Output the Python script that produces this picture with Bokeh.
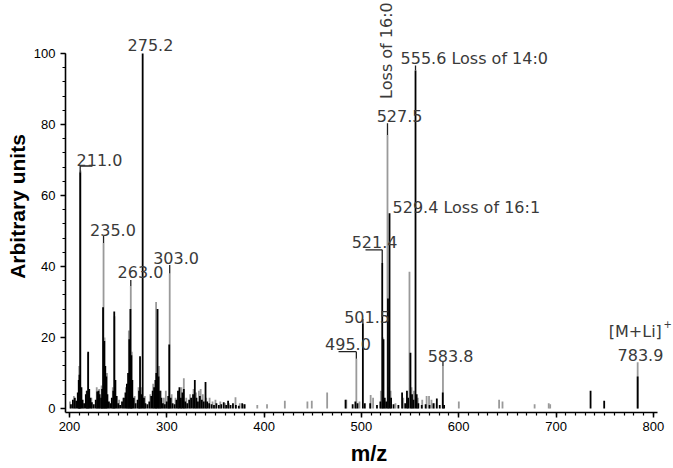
import math
from bokeh.plotting import figure
from bokeh.models import ColumnDataSource, Range1d, SingleIntervalTicker
from bokeh.core.properties import value
from bokeh.embed import file_html
from bokeh.resources import INLINE

# ---------------- data ----------------
# black (strong) sticks: m/z and relative intensity
black_mz = [201.5, 203.5, 205.5, 207.0, 208.5, 209.5, 210.3, 211.0, 212.3, 213.5, 215.0, 216.8, 218.0,
            219.2, 220.3, 221.5, 223.0, 225.0, 227.0, 228.5, 229.8, 231.0, 232.5, 233.5, 234.5, 235.8,
            236.8, 237.8, 239.0, 240.5, 242.0, 243.5, 245.0, 246.0, 247.2, 248.5, 250.0, 252.0, 254.0,
            256.0, 257.5, 259.0, 260.2, 261.5, 262.6, 263.6, 264.6, 266.0, 268.0, 270.0, 271.5, 272.5,
            274.0, 275.2, 276.5, 278.0, 280.0, 282.0, 284.0, 285.5, 287.0, 288.3, 289.2, 290.5, 291.5,
            293.0, 294.5, 296.0, 298.0, 300.0, 301.5, 302.5, 304.0, 306.0, 308.0, 310.0, 311.5, 313.0,
            314.5, 316.0, 317.5, 319.0, 321.0, 323.0, 325.0, 327.0, 328.8, 330.5, 332.0, 334.0, 336.0,
            338.0, 339.8, 341.5, 343.5, 346.0, 348.5, 351.0, 353.5, 356.0, 358.5, 361.0, 363.0, 365.5,
            368.0, 371.0, 374.0, 377.5, 380.0, 483.7, 491.0, 493.8, 496.0, 501.5, 503.5, 509.0, 516.0,
            519.5, 521.4, 522.7, 524.0, 525.5, 527.3, 528.9, 530.5, 533.0, 538.0, 541.8, 545.0, 546.8,
            548.0, 550.4, 552.0, 553.5, 555.6, 556.8, 558.5, 562.0, 566.0, 570.0, 574.0, 577.5, 580.5,
            583.6, 585.0, 735.5, 749.5, 783.9]
black_int = [1.2, 2.5, 3.0, 2.2, 4.5, 8.0, 9.5, 66.5, 6.0, 2.5, 1.5, 4.0, 5.0,
             16.0, 5.5, 3.0, 1.8, 1.2, 2.5, 4.8, 5.0, 4.0, 3.0, 5.5, 28.5, 19.0,
             12.0, 9.0, 4.0, 2.0, 1.5, 3.0, 5.0, 27.3, 8.0, 3.5, 1.5, 1.0, 2.0,
             3.0, 4.5, 7.0, 10.0, 19.5, 28.0, 15.0, 8.0, 3.0, 1.5, 2.5, 5.0, 14.7,
             4.0, 100.0, 3.0, 1.5, 1.2, 2.0, 3.5, 5.0, 6.0, 8.0, 10.0, 28.0, 9.0,
             5.0, 3.0, 1.5, 1.2, 2.0, 3.5, 18.0, 3.0, 1.5, 1.2, 2.5, 5.0, 6.0,
             3.0, 4.5, 5.5, 2.0, 1.5, 2.5, 3.0, 4.0, 8.0, 3.0, 2.0, 3.5, 2.5,
             2.0, 7.5, 2.0, 1.5, 1.2, 1.0, 1.5, 1.0, 1.2, 1.8, 1.0, 2.2, 1.0,
             1.5, 1.0, 0.8, 1.5, 1.2, 2.5, 1.2, 2.0, 1.5, 24.0, 1.5, 1.5, 1.0,
             2.0, 41.0, 19.5, 3.0, 2.0, 31.0, 55.0, 3.0, 1.2, 1.0, 4.5, 1.5, 5.0,
             3.0, 15.7, 4.0, 2.5, 95.2, 4.0, 1.5, 1.0, 1.2, 1.0, 1.5, 2.8, 1.0,
             4.5, 1.0, 5.0, 2.2, 9.0]

# gray (weaker trace) sticks
gray_mz = [200.5, 204.5, 210.0, 211.3, 217.5, 219.0, 222.5, 228.0, 230.5, 233.0, 235.0, 236.0, 238.5,
           244.5, 246.3, 251.0, 255.0, 258.0, 261.0, 263.0, 264.0, 267.0, 271.0, 273.5, 277.5, 283.0,
           286.0, 289.0, 292.0, 294.0, 297.0, 299.0, 303.0, 305.0, 309.0, 312.5, 315.0, 317.5, 320.0,
           324.0, 327.5, 330.0, 333.0, 334.8, 337.0, 340.5, 344.0, 347.0, 350.0, 355.0, 360.0, 364.0,
           370.6, 375.0, 379.0, 393.0, 403.0, 421.3, 444.5, 449.0, 464.8, 484.5, 494.8, 498.0, 509.5,
           512.0, 520.0, 522.0, 526.8, 528.0, 530.0, 535.0, 543.0, 549.4, 551.5, 554.0, 558.0, 562.5,
           567.0, 569.5, 572.0, 575.0, 583.8, 600.1, 641.5, 645.0, 678.0, 692.5, 694.0, 783.9]
gray_int = [2.0, 3.5, 12.0, 67.0, 5.0, 15.6, 3.0, 6.0, 5.5, 6.5, 46.6, 20.0, 10.0,
            6.0, 26.0, 2.5, 3.0, 6.0, 22.0, 34.5, 16.0, 3.5, 6.0, 6.0, 3.5, 4.0,
            7.0, 30.0, 12.0, 5.0, 3.0, 5.0, 38.0, 4.0, 3.0, 5.0, 6.0, 8.5, 3.0,
            4.0, 5.5, 4.5, 5.0, 5.5, 4.0, 3.0, 3.0, 2.0, 2.5, 2.0, 1.5, 1.5,
            3.2, 1.5, 1.2, 1.0, 1.2, 2.2, 2.0, 2.2, 4.5, 2.5, 14.0, 2.0, 3.8,
            3.0, 5.0, 20.0, 77.0, 6.0, 5.0, 1.5, 3.0, 38.5, 6.0, 5.0, 3.0, 2.5,
            3.5, 3.5, 2.5, 1.5, 12.0, 2.0, 2.5, 2.0, 1.2, 1.5, 1.2, 13.0]

# peak annotations
ann_text = ["211.0", "235.0", "263.0", "275.2", "303.0", "495.0", "501.5", "521.4",
            "527.5", "529.4 Loss of 16:1", "555.6 Loss of 14:0", "583.8", "[M+Li]", "783.9"]
ann_x = [230.8, 244.7, 273.0, 283.2, 309.5, 486.2, 505.8, 513.5,
         539.2, 532.0, 540.2, 591.6, 781.5, 786.8]
ann_y = [69.9, 50.3, 38.5, 102.5, 42.4, 18.3, 25.8, 46.9,
         82.3, 56.5, 98.6, 14.9, 21.6, 15.2]
ann_align = ["center", "center", "center", "center", "center", "center", "center", "center",
             "center", "left", "left", "center", "center", "center"]

rot_text = ["Loss of 16:0"]
rot_x = [525.8]
rot_y = [100.8]

sup_text = ["+"]
sup_x = [810.5]
sup_y = [23.8]

# leader lines: vertical from peak top up to label, optional horizontal bracket
lead_mz = [211.0, 235.0, 263.0, 303.0, 494.8, 501.5, 521.4, 526.8, 555.6, 583.8]
lead_y0 = [66.5, 46.6, 34.5, 38.0, 14.0, 24.0, 41.0, 77.0, 95.2, 12.0]
lead_y1 = [68.3, 48.6, 36.2, 40.4, 16.0, 25.2, 44.7, 80.3, 96.6, 13.2]
brk_x0 = [211.0, 476.5, 504.2]
brk_x1 = [223.6, 494.8, 521.4]
brk_y = [68.3, 16.0, 44.7]

x_title = "m/z"
y_title = "Arbitrary units"

# ---------------- figure ----------------
p = figure(width=673, height=468, output_backend="svg", toolbar_location=None,
           x_range=Range1d(195.9, 819.7), y_range=Range1d(-1.12, 114.9),
           min_border_left=65, min_border_right=1, min_border_top=0, min_border_bottom=55)
p.outline_line_color = None
p.grid.visible = False
p.background_fill_color = "white"
p.border_fill_color = "white"

gsrc = ColumnDataSource(dict(x=gray_mz, y=gray_int, y0=[0] * len(gray_mz)))
bsrc = ColumnDataSource(dict(x=black_mz, y=black_int, y0=[0] * len(black_mz)))
p.segment(x0="x", y0="y0", x1="x", y1="y", source=gsrc, line_color="#9a9a9a", line_width=1.8)
p.segment(x0="x", y0="y0", x1="x", y1="y", source=bsrc, line_color="#000000", line_width=1.8)

# leaders
p.segment(x0=lead_mz, y0=lead_y0, x1=lead_mz, y1=lead_y1, line_color="#222222", line_width=1.3)
p.segment(x0=brk_x0, y0=brk_y, x1=brk_x1, y1=brk_y, line_color="#222222", line_width=1.3)

font = value("DejaVu Sans")
asrc = ColumnDataSource(dict(x=ann_x, y=ann_y, text=ann_text, align=ann_align))
p.text(x="x", y="y", text="text", source=asrc, text_align="align", text_baseline="middle",
       text_font=font, text_font_size="16px", text_color="#3a3a3a")
p.text(x=rot_x, y=rot_y, text=rot_text, angle=math.pi / 2, text_align="center",
       text_baseline="middle", text_font=font, text_font_size="16px", text_color="#3a3a3a")
p.text(x=sup_x, y=sup_y, text=sup_text, text_align="left", text_baseline="middle",
       text_font=font, text_font_size="10px", text_color="#3a3a3a")

# axes
xa = p.xaxis[0]
ya = p.yaxis[0]
xa.ticker = SingleIntervalTicker(interval=100, num_minor_ticks=10)
ya.ticker = SingleIntervalTicker(interval=20, num_minor_ticks=5)
xa.bounds = (196, 804)
ya.bounds = (-1.12, 100)
for ax in (xa, ya):
    ax.axis_line_width = 1.6
    ax.axis_line_color = "black"
    ax.major_tick_line_width = 1.5
    ax.minor_tick_line_width = 1.2
    ax.major_tick_out = 5
    ax.major_tick_in = 0
    ax.minor_tick_out = 3
    ax.minor_tick_in = 0
    ax.major_label_text_font = "Liberation Sans"
    ax.major_label_text_font_size = "13px"
    ax.major_label_text_color = "black"
    ax.axis_label_text_font = "Liberation Sans"
    ax.axis_label_text_font_style = "bold"
    ax.axis_label_text_color = "black"
xa.axis_label = x_title
ya.axis_label = y_title
xa.axis_label_text_font_size = "22px"
ya.axis_label_text_font_size = "21px"
xa.major_label_standoff = 4
ya.major_label_standoff = 5
xa.axis_label_standoff = 7
ya.axis_label_standoff = 2

open("out.html", "w").write(file_html(p, INLINE))
